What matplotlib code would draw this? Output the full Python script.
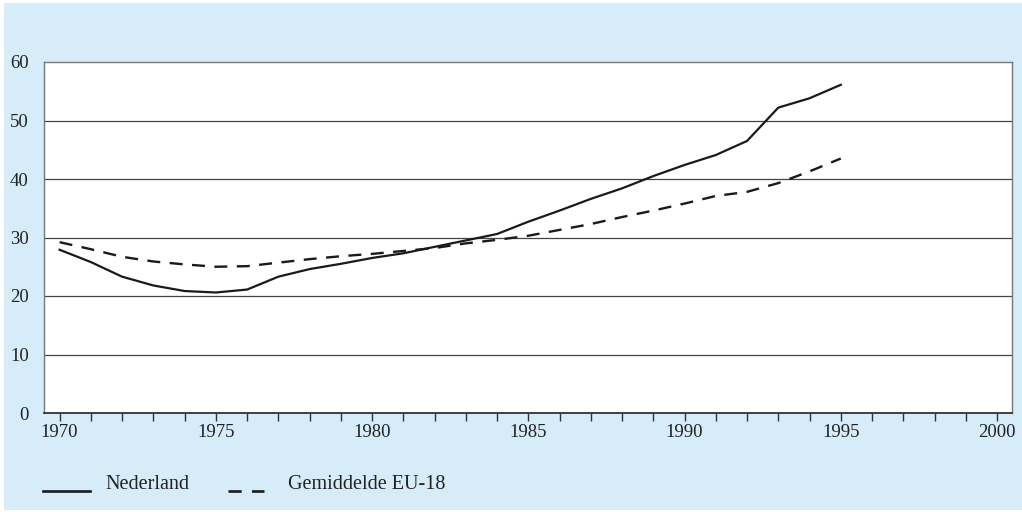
import numpy as np
import matplotlib
matplotlib.use("Agg")
import matplotlib.pyplot as plt
from matplotlib.lines import Line2D
from matplotlib.patches import Rectangle

years = np.arange(1970, 1996)
nederland = [27.9, 25.8, 23.3, 21.8, 20.85, 20.6, 21.1, 23.3, 24.6, 25.5,
             26.5, 27.3, 28.4, 29.5, 30.6, 32.7, 34.6, 36.6, 38.4, 40.5,
             42.4, 44.1, 46.5, 52.2, 53.8, 56.1]
eu18 = [29.2, 28.0, 26.7, 25.9, 25.4, 25.0, 25.1, 25.7, 26.3, 26.8,
        27.2, 27.7, 28.2, 29.0, 29.6, 30.3, 31.3, 32.3, 33.5, 34.6,
        35.8, 37.1, 37.8, 39.3, 41.3, 43.5]
series_labels = ["Nederland", "Gemiddelde EU-18"]

BLUE = "#d6ecf9"
plt.rcParams["font.family"] = ["Liberation Serif", "DejaVu Serif"]

fig = plt.figure(figsize=(10.22, 5.12), dpi=100, facecolor="white")
W, H = 1022, 512
fig.add_artist(Rectangle((4 / W, 2 / H), 1 - 4 / W, 507 / H,
                         transform=fig.transFigure, facecolor=BLUE,
                         edgecolor="none", zorder=0))

ax = fig.add_axes([44 / W, (H - 413) / H, (1012 - 44) / W, (413 - 62) / H])
ax.set_facecolor("white")
ax.plot(years, nederland, color="#1a1a1a", lw=1.6, zorder=3)
ax.plot(years, eu18, color="#1a1a1a", lw=1.7, dashes=(5.5, 4), zorder=3)

ax.set_xlim(1969.5, 2000.48)
ax.set_ylim(0, 60)
ax.set_yticks(range(0, 61, 10))
ax.set_xticks(range(1970, 2001, 5))
ax.set_xticks(range(1970, 2001), minor=True)
ax.tick_params(axis="y", length=0, pad=11, labelsize=13.5, colors="#222")
ax.tick_params(axis="x", which="both", direction="out", length=6,
               width=1, color="#333", pad=2, labelsize=13.5, labelcolor="#222")
for y in range(10, 60, 10):
    ax.axhline(y, color="#444", lw=0.9, zorder=1)
for s in ["left", "top", "right"]:
    ax.spines[s].set_color("#777")
    ax.spines[s].set_linewidth(1.0)
ax.spines["bottom"].set_color("#333")
ax.spines["bottom"].set_linewidth(1.3)

# legend drawn at bottom of the blue panel
ly = (H - 491) / H
fig.add_artist(Line2D([43 / W, 90 / W], [ly, ly], transform=fig.transFigure,
                      color="#1a1a1a", lw=1.9))
fig.text(105 / W, (H - 489) / H, series_labels[0], fontsize=14.5,
         color="#222", va="baseline")
fig.add_artist(Line2D([228 / W, 264 / W], [ly, ly], transform=fig.transFigure,
                      color="#1a1a1a", lw=1.9, dashes=(5.0, 3.9)))
fig.text(288 / W, (H - 489) / H, series_labels[1], fontsize=14.5,
         color="#222", va="baseline")

fig.savefig("out.png", dpi=100)
